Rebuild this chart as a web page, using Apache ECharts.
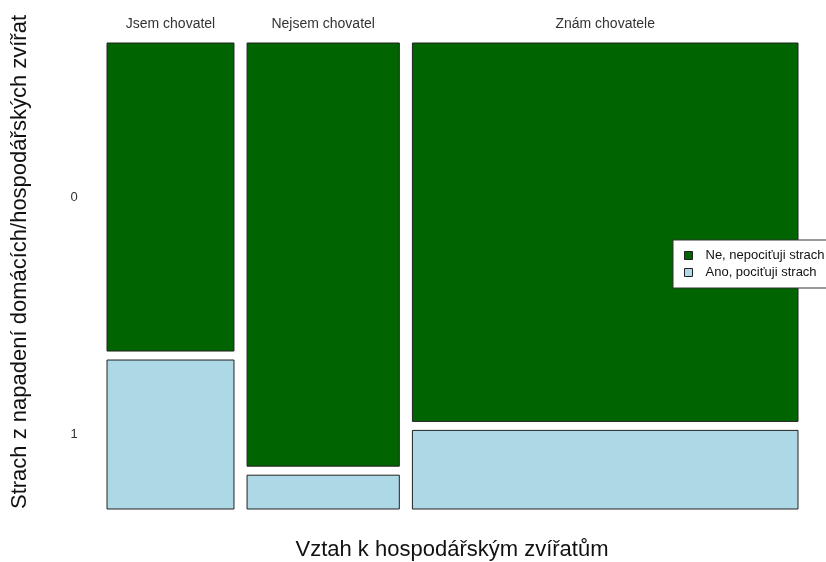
<!DOCTYPE html>
<html>
<head>
<meta charset="utf-8">
<script src="https://cdn.jsdelivr.net/npm/echarts@6/dist/echarts.min.js"></script>
<style>
  html, body { margin: 0; padding: 0; background: #fff; }
  #chart { width: 826px; height: 562px; }
</style>
</head>
<body>
<div id="chart"></div>
<script>
// skupiny (sloupce) a jejich podíl na šířce
const groups = ['Jsem chovatel', 'Nejsem chovatel', 'Znám chovatele'];
const groupShare = [0.191, 0.229, 0.580];
// podíl odpovědí v každé skupině (0 = bez strachu, 1 = strach)
const levelLabels = ['0', '1'];
const noFearShare = [0.674, 0.926, 0.828];
const fearShare = [0.326, 0.074, 0.172];
const seriesNames = ['Ne, nepociťuji strach', 'Ano, pociťuji strach'];

const GAP = 0.0197;
const FONT = 'Liberation Sans, Arial, sans-serif';

// obdélníky mozaiky: [x0, x1, y0, y1, skupina]
const noFearRects = [];
const fearRects = [];
let cum = 0;
groups.forEach((g, i) => {
  const x0 = cum + i * GAP;
  const x1 = x0 + groupShare[i];
  fearRects.push([x0, x1, 0, fearShare[i], i]);
  noFearRects.push([x0, x1, fearShare[i] + GAP, fearShare[i] + GAP + noFearShare[i], i]);
  cum += groupShare[i];
});

function renderRect(params, api) {
  const p0 = api.coord([api.value(0), api.value(3)]);
  const p1 = api.coord([api.value(1), api.value(2)]);
  const i = api.value(4);
  const children = [{
    type: 'rect',
    shape: { x: p0[0], y: p0[1], width: p1[0] - p0[0], height: p1[1] - p0[1] },
    style: { fill: api.visual('color'), stroke: '#222', lineWidth: 1 }
  }];
  // popisek skupiny nad sloupcem
  if (params.seriesIndex === 0) {
    children.push({
      type: 'text',
      style: {
        x: (p0[0] + p1[0]) / 2, y: params.coordSys.y - 19,
        text: groups[i], fill: '#333', font: '14px ' + FONT,
        align: 'center', verticalAlign: 'middle'
      }
    });
  }
  // popisky úrovní vlevo u prvního sloupce
  if (i === 0) {
    children.push({
      type: 'text',
      style: {
        x: p0[0] - 33, y: (p0[1] + p1[1]) / 2,
        text: levelLabels[params.seriesIndex], fill: '#333', font: '13px ' + FONT,
        align: 'center', verticalAlign: 'middle'
      }
    });
  }
  return { type: 'group', children: children };
}

const chart = echarts.init(document.getElementById('chart'));
chart.setOption({
  animation: false,
  grid: { left: 107, right: 28, top: 43, bottom: 53 },
  xAxis: { type: 'value', min: 0, max: 1 + 2 * GAP, show: false },
  yAxis: { type: 'value', min: 0, max: 1 + GAP, show: false },
  legend: {
    orient: 'vertical',
    left: 673, top: 240,
    data: seriesNames,
    icon: 'rect',
    itemWidth: 8, itemHeight: 8,
    itemGap: 4,
    padding: [9, 10, 9, 11],
    borderColor: '#333', borderWidth: 1,
    backgroundColor: '#fff',
    textStyle: { fontFamily: FONT, fontSize: 13, color: '#111', padding: [0, 0, 0, 8] },
    itemStyle: { borderColor: '#222', borderWidth: 1 },
    selectedMode: false
  },
  graphic: [
    {
      type: 'text', x: 452, y: 550,
      style: {
        text: 'Vztah k hospodářským zvířatům', font: '22px ' + FONT, fill: '#111',
        align: 'center', verticalAlign: 'middle'
      }
    },
    {
      type: 'text', x: 20, y: 262, rotation: Math.PI / 2,
      style: {
        text: 'Strach z napadení domácích/hospodářských zvířat', font: '22px ' + FONT,
        fill: '#111', align: 'center', verticalAlign: 'middle'
      }
    }
  ],
  series: [
    {
      name: seriesNames[0], type: 'custom', color: '#006400',
      renderItem: renderRect, data: noFearRects,
      encode: { x: [0, 1], y: [2, 3] }
    },
    {
      name: seriesNames[1], type: 'custom', color: '#ADD8E6',
      renderItem: renderRect, data: fearRects,
      encode: { x: [0, 1], y: [2, 3] }
    }
  ]
});
</script>
</body>
</html>
